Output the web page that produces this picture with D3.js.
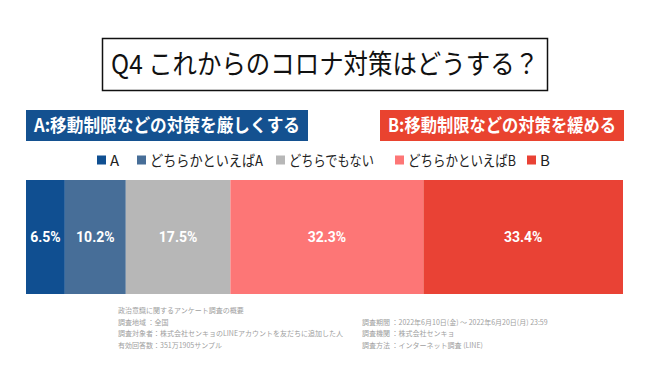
<!DOCTYPE html>
<html><head><meta charset="utf-8">
<script src="https://cdn.jsdelivr.net/npm/d3@7"></script>
<style>
html,body{margin:0;padding:0;background:#fff;}
svg{display:block;font-family:"Noto Sans CJK JP","Noto Sans",sans-serif;}
</style></head>
<body>
<svg id="chart" width="650" height="366"></svg>
<script>
const title = "Q4 これからのコロナ対策はどうする？";
const sideLabels = ["A:移動制限などの対策を厳しくする", "B:移動制限などの対策を緩める"];
const categories = ["A", "どちらかといえばA", "どちらでもない", "どちらかといえばB", "B"];
const values = [6.5, 10.2, 17.5, 32.3, 33.4];
const footerLeft = [
  "政治意識に関するアンケート調査の概要",
  "調査地域 ：全国",
  "調査対象者：株式会社センキョのLINEアカウントを友だちに追加した人",
  "有効回答数：351万1905サンプル"
];
const footerRight = [
  "調査期間 ：2022年6月10日(金) 〜 2022年6月20日(月) 23:59",
  "調査機関 ：株式会社センキョ",
  "調査方法 ：インターネット調査 (LINE)"
];

const colors = ["#104f91", "#476e98", "#b7b7b7", "#fd7676", "#e94235"];
const svg = d3.select("#chart");

// Title box
svg.append("rect").attr("x", 102.5).attr("y", 38.5).attr("width", 445).attr("height", 52)
  .attr("fill", "#fff").attr("stroke", "#111").attr("stroke-width", 1.5);
svg.append("text").attr("x", 325).attr("y", 74).attr("text-anchor", "middle")
  .attr("font-size", 27).attr("fill", "#111")
  .attr("textLength", 428).attr("lengthAdjust", "spacingAndGlyphs")
  .text(title);

// Side label boxes
const boxes = [
  {x: 26, w: 282, fill: "#145190", tl: 266},
  {x: 380, w: 244, fill: "#e9432f", tl: 228}
];
boxes.forEach((b, i) => {
  svg.append("rect").attr("x", b.x).attr("y", 110).attr("width", b.w).attr("height", 31).attr("fill", b.fill);
  svg.append("text").attr("x", b.x + b.w / 2).attr("y", 132).attr("text-anchor", "middle")
    .attr("font-size", 18).attr("font-weight", 700).attr("fill", "#fff")
    .attr("textLength", b.tl).attr("lengthAdjust", "spacingAndGlyphs")
    .text(sideLabels[i]);
});

// Legend
const legendX = [97, 137, 276, 395, 527];
const legendTL = [null, 113, 85, 108, null];
categories.forEach((c, i) => {
  const g = svg.append("g").attr("transform", `translate(${legendX[i]},160)`);
  g.append("rect").attr("x", 0).attr("y", -4.5).attr("width", 9).attr("height", 9).attr("fill", colors[i]);
  const t = g.append("text").attr("x", 13).attr("y", 5.5).attr("font-size", 15).attr("fill", "#222").text(c);
  if (legendTL[i]) t.attr("textLength", legendTL[i]).attr("lengthAdjust", "spacingAndGlyphs");
});

// Stacked bar
const total = d3.sum(values);
const x = d3.scaleLinear().domain([0, total]).range([26, 623]);
const y = d3.scaleBand().domain(["Q4"]).range([180, 294]).padding(0);
const cum = d3.cumsum(values);
const segs = values.map((v, i) => ({v, start: cum[i] - v, end: cum[i], c: categories[i]}));

svg.append("g").selectAll("rect").data(segs).join("rect")
  .attr("x", d => x(d.start)).attr("y", y("Q4"))
  .attr("width", d => x(d.end) - x(d.start)).attr("height", y.bandwidth())
  .attr("fill", (d, i) => colors[i]);

svg.append("g").selectAll("text").data(segs).join("text")
  .attr("x", d => (x(d.start) + x(d.end)) / 2).attr("y", y("Q4") + y.bandwidth() / 2 + 5)
  .attr("text-anchor", "middle").attr("font-size", 14).attr("font-weight", 700)
  .attr("fill", "#fff").attr("font-family", "Roboto, 'Liberation Sans', sans-serif")
  .text(d => d.v.toFixed(1) + "%");

// Footer
svg.append("g").selectAll("text").data(footerLeft).join("text")
  .attr("x", 118).attr("y", (d, i) => 313 + i * 11.5)
  .attr("font-size", 7).attr("fill", "#a0a0a0").text(d => d);
svg.append("g").selectAll("text").data(footerRight).join("text")
  .attr("x", 362).attr("y", (d, i) => 324.5 + i * 11.5)
  .attr("font-size", 7).attr("fill", "#a0a0a0").text(d => d);
</script>
</body></html>
